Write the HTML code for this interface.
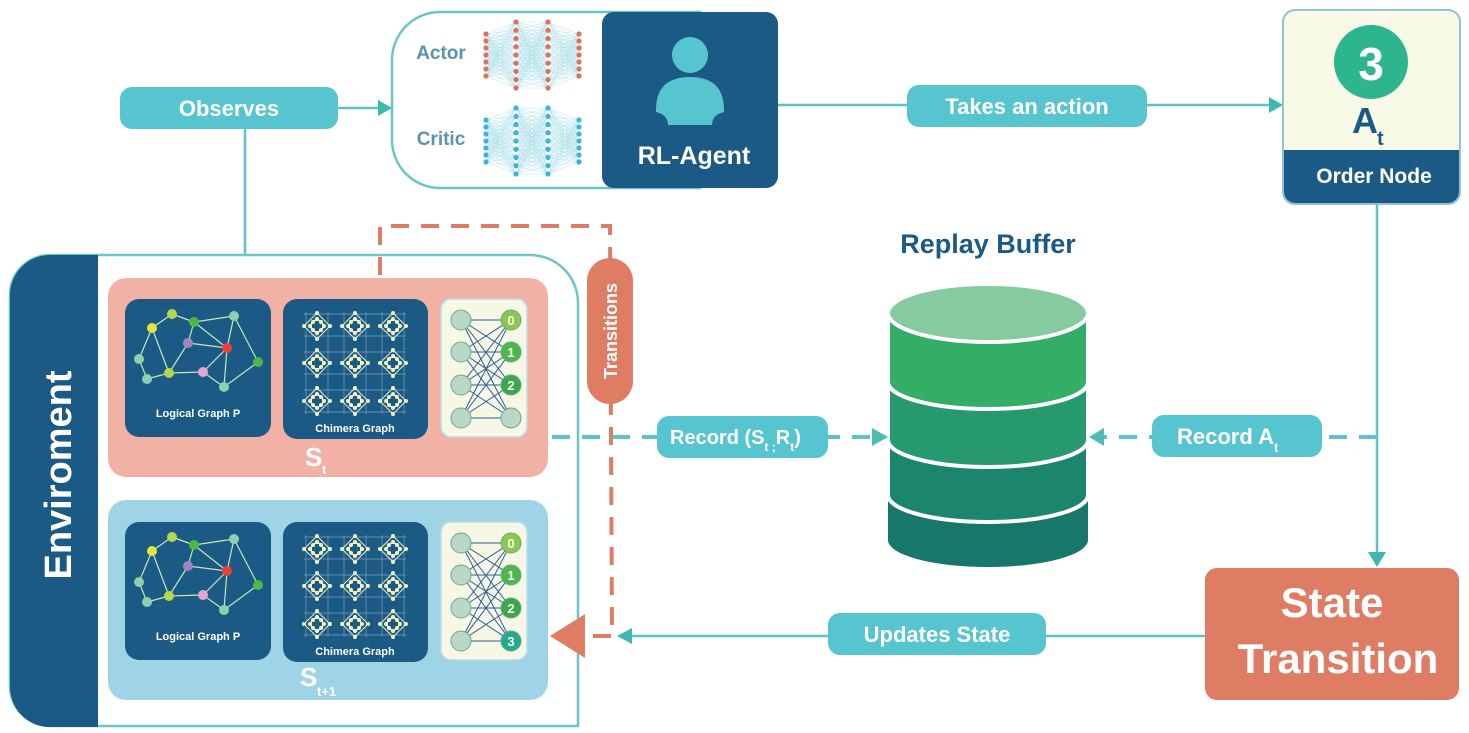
<!DOCTYPE html>
<html><head><meta charset="utf-8"><style>
html,body{margin:0;padding:0;background:#fff;}
svg{display:block;font-family:"Liberation Sans",sans-serif;font-weight:bold;}
</style></head><body>
<svg id="s" width="1469" height="733" viewBox="0 0 1469 733" xmlns="http://www.w3.org/2000/svg">
<!-- Observes connectors -->
<line x1="245" y1="108" x2="245" y2="280" stroke="#5cc4c8" stroke-width="2.5"/>
<line x1="338" y1="108" x2="392" y2="108" stroke="#5cc4c8" stroke-width="2.5"/>
<path d="M378,100 L392,108 L378,116 z" fill="#3fb9b0"/>
<rect x="120" y="87" width="218" height="42" rx="12" fill="#56c5cf"/>
<text x="229" y="116" font-size="22" fill="#fff" text-anchor="middle">Observes</text>

<!-- Agent -->
<path d="M440,12 L700,12 L700,188 L440,188 A48,48 0 0 1 392,140 L392,60 A48,48 0 0 1 440,12 z" fill="#fff" stroke="#6cc6c6" stroke-width="2.5"/>
<g id="nets"></g>
<text x="441" y="59" font-size="19" fill="#5a93b0" text-anchor="middle">Actor</text>
<text x="441" y="145" font-size="19" fill="#5a93b0" text-anchor="middle">Critic</text>
<rect x="602" y="12" width="176" height="176" rx="12" fill="#1a5a85"/>
<circle cx="690" cy="55" r="18" fill="#56c5cf"/>
<path d="M656,110 Q656,77 690,77 Q724,77 724,110 L724,112 Q712,115 712,125 L668,125 Q668,115 656,112 z" fill="#56c5cf"/>
<text x="694" y="164" font-size="25" fill="#fff" text-anchor="middle">RL-Agent</text>

<!-- Takes action -->
<line x1="778" y1="105" x2="1283" y2="105" stroke="#5cc4c8" stroke-width="2.5"/>
<path d="M1269,97 L1283,105 L1269,113 z" fill="#3fb9b0"/>
<rect x="907" y="85" width="240" height="42" rx="12" fill="#56c5cf"/>
<text x="1027" y="114" font-size="22" fill="#fff" text-anchor="middle">Takes an action</text>

<!-- Order node -->
<rect x="1283" y="10" width="177" height="194" rx="12" fill="#f8f9e6" stroke="#8fc3dc" stroke-width="2"/>
<path d="M1284,150 L1459,150 L1459,192 A11,11 0 0 1 1448,203 L1295,203 A11,11 0 0 1 1284,192 z" fill="#1a5a85"/>
<circle cx="1371" cy="62" r="37" fill="#2db58e"/>
<text x="1371" y="80" font-size="46" fill="#fff" text-anchor="middle">3</text>
<text x="1352" y="133" font-size="36" fill="#1a5a85">A</text>
<text x="1377" y="145" font-size="20" fill="#1a5a85">t</text>
<text x="1374" y="183" font-size="21" fill="#fff" text-anchor="middle">Order Node</text>

<!-- vertical to state transition -->
<line x1="1377" y1="204" x2="1377" y2="565" stroke="#5cc4c8" stroke-width="2.5"/>
<path d="M1368,552 L1377,567 L1386,552 z" fill="#3fb9b0"/>

<!-- State transition -->
<rect x="1205" y="568" width="254" height="132" rx="12" fill="#df7c64"/>
<text x="1332" y="617" font-size="42" fill="#fff" text-anchor="middle">State</text>
<text x="1338" y="673" font-size="42" fill="#fff" text-anchor="middle">Transition</text>

<!-- Updates state -->
<line x1="1205" y1="636" x2="620" y2="636" stroke="#5cc4c8" stroke-width="2.5"/>
<path d="M632,628 L617,636 L632,644 z" fill="#3fb9b0"/>
<rect x="828" y="613" width="218" height="42" rx="12" fill="#56c5cf"/>
<text x="937" y="642" font-size="22" fill="#fff" text-anchor="middle">Updates State</text>

<!-- Replay buffer -->
<text x="988" y="253" font-size="27" fill="#1a5a85" text-anchor="middle">Replay Buffer</text>
<g>
<path d="M888,315 L888,540 A100,27 0 0 0 1088,540 L1088,315 z" fill="#17776a"/>
<path d="M888,315 L888,495 A100,27 0 0 0 1088,495 L1088,315 z" fill="#1b866d" stroke="#fff" stroke-width="4"/>
<path d="M888,315 L888,440 A100,27 0 0 0 1088,440 L1088,315 z" fill="#27996e" stroke="#fff" stroke-width="4"/>
<path d="M888,315 L888,382 A100,27 0 0 0 1088,382 L1088,315 z" fill="#32ae67" stroke="#fff" stroke-width="4"/>
<ellipse cx="988" cy="313" rx="100" ry="29" fill="#85cb9f" stroke="#fff" stroke-width="4"/>
</g>

<!-- Environment -->
<path d="M50,255 L530,255 A48,48 0 0 1 578,303 L578,726 L50,726 A40,40 0 0 1 10,686 L10,295 A40,40 0 0 1 50,255 z" fill="#fff" stroke="#6cc6c6" stroke-width="2.5"/>
<path d="M50,255 L98,255 L98,727 L50,727 A40,40 0 0 1 10,687 L10,295 A40,40 0 0 1 50,255 z" fill="#1a5a85"/>
<text transform="translate(71,475) rotate(-90)" font-size="38" fill="#fff" text-anchor="middle">Enviroment</text>
<rect x="108" y="278" width="440" height="199" rx="18" fill="#f2b1a5"/>
<rect x="108" y="500" width="440" height="200" rx="18" fill="#9fd3e6"/>
<g id="panels"></g>
<text x="305" y="466" font-size="26" fill="#fff">S</text>
<text x="322" y="474" font-size="13" fill="#fff">t</text>
<text x="300" y="686" font-size="26" fill="#fff">S</text>
<text x="317" y="696" font-size="13" fill="#fff">t+1</text>

<!-- record lines -->
<line x1="552" y1="437" x2="884" y2="437" stroke="#5cc4c8" stroke-width="4" stroke-dasharray="18,12"/>
<path d="M872,428 L888,437 L872,446 z" fill="#4dbcb6"/>
<rect x="657" y="416" width="171" height="42" rx="12" fill="#56c5cf"/>
<text x="670" y="444" font-size="20" fill="#fff">Record (S<tspan font-size="12" dy="7">t ;</tspan><tspan dy="-7">R</tspan><tspan font-size="12" dy="7">t</tspan><tspan dy="-7">)</tspan></text>

<line x1="1377" y1="437" x2="1095" y2="437" stroke="#5cc4c8" stroke-width="4" stroke-dasharray="18,12"/>
<path d="M1104,428 L1089,437 L1104,446 z" fill="#4dbcb6"/>
<rect x="1152" y="415" width="170" height="42" rx="12" fill="#56c5cf"/>
<text x="1177" y="444" font-size="22" fill="#fff">Record A<tspan font-size="13" dy="8">t</tspan></text>

<!-- orange dashed transitions -->
<path d="M380,275 L380,226 L610,226 L612,636 L585,636" fill="none" stroke="#df7c64" stroke-width="4" stroke-dasharray="18,12"/>
<path d="M585,614 L550,636 L585,658 z" fill="#df7c64"/>
<rect x="587" y="258" width="46" height="146" rx="23" fill="#df7c64"/>
<text transform="translate(617,331) rotate(-90)" font-size="18" fill="#fff" text-anchor="middle">Transitions</text>
</svg>
<script>
var NS="http://www.w3.org/2000/svg";
function el(p,t,a){var e=document.createElementNS(NS,t);for(var k in a)e.setAttribute(k,a[k]);p.appendChild(e);return e;}
var nets=document.getElementById('nets');
function net(y0,col){
 var xs=[486,516,548,579],layers=[];
 for(var i=0;i<4;i++){var n=(i==0||i==3)?7:9,top=(n==7)?y0+12:y0,bot=(n==7)?y0+54:y0+66,ys=[];
  for(var j=0;j<n;j++)ys.push(top+(bot-top)*j/(n-1));layers.push(ys);}
 for(var i=0;i<3;i++)for(var a=0;a<layers[i].length;a++)for(var b=0;b<layers[i+1].length;b++)
  el(nets,'line',{x1:xs[i],y1:layers[i][a],x2:xs[i+1],y2:layers[i+1][b],stroke:'#9fdbe6','stroke-width':0.4});
 for(var i=0;i<4;i++)layers[i].forEach(function(y){el(nets,'circle',{cx:xs[i],cy:y,r:2.6,fill:col});});
}
net(22,'#e0705e');net(108,'#3bb3e0');
var P=document.getElementById('panels');
function panels(oy,four){
 el(P,'rect',{x:125,y:299+oy,width:146,height:138,rx:14,fill:'#1a5a85'});
 el(P,'rect',{x:283,y:299+oy,width:145,height:140,rx:14,fill:'#1a5a85'});
 el(P,'rect',{x:441,y:299+oy,width:86,height:138,rx:10,fill:'#f6f7e4',stroke:'#b9dce6','stroke-width':1.5});
 var N=[[152,328,'#e5e43a'],[172,314,'#b5d84a'],[194,322,'#4cb84a'],[234,316,'#8ecfb0'],[188,343,'#a084c4'],[227,348,'#ee4036'],[139,359,'#8ecfb0'],[169,373,'#b5d84a'],[147,379,'#8ecfb0'],[203,372,'#e5a6d6'],[224,387,'#8ecfb0'],[258,362,'#4cb84a']];
 var E=[[0,1],[1,2],[2,3],[0,6],[0,7],[6,8],[8,7],[7,4],[4,2],[4,5],[2,5],[3,5],[3,11],[5,9],[5,10],[7,9],[9,10],[10,11]];
 E.forEach(function(e){el(P,'line',{x1:N[e[0]][0],y1:N[e[0]][1]+oy,x2:N[e[1]][0],y2:N[e[1]][1]+oy,stroke:'#c8e6b8','stroke-width':1.2});});
 N.forEach(function(n){el(P,'circle',{cx:n[0],cy:n[1]+oy,r:5,fill:n[2]});});
 el(P,'text',{x:198,y:417+oy,'font-size':11,fill:'#fff','text-anchor':'middle'}).textContent='Logical Graph P';
 el(P,'text',{x:355,y:432+oy,'font-size':11,fill:'#fff','text-anchor':'middle'}).textContent='Chimera Graph';
 var cx=[317,355,393],cy=[326,363,401];
 [306,328,344,366,382,404].forEach(function(x){el(P,'line',{x1:x,y1:312+oy,x2:x,y2:414+oy,stroke:'#7f9fb8','stroke-width':0.7});});
 [314,336,352,374,390,412].forEach(function(y){el(P,'line',{x1:304,y1:y+oy,x2:406,y2:y+oy,stroke:'#7f9fb8','stroke-width':0.7});});
 cx.forEach(function(x){cy.forEach(function(y){y+=oy;
  el(P,'path',{d:'M'+x+','+(y-13)+' L'+(x+13)+','+y+' L'+x+','+(y+13)+' L'+(x-13)+','+y+' z',fill:'none',stroke:'#e8ecd0','stroke-width':1});
  el(P,'circle',{cx:x,cy:y,r:6,fill:'none',stroke:'#f4f1c8','stroke-width':1.5});
  [[0,-13],[0,-7],[0,7],[0,13],[-13,0],[-7,0],[7,0],[13,0],[-4,-4],[4,4],[-4,4],[4,-4]].forEach(function(d){el(P,'circle',{cx:x+d[0],cy:y+d[1],r:2,fill:'#f4f1c0'});});
 });});
 var ly=[320,352,385,418];
 ly.forEach(function(a){ly.forEach(function(b){el(P,'line',{x1:461,y1:a+oy,x2:511,y2:b+oy,stroke:'#2c5c9c','stroke-width':1});});});
 ly.forEach(function(y){el(P,'circle',{cx:461,cy:y+oy,r:10,fill:'#b9d8c8',stroke:'#6aa88a','stroke-width':1});});
 var rc=['#8cc84b','#4cb84a','#3aa848',four?'#25a890':'#b9d8c8'],lab=['0','1','2',four?'3':''];
 ly.forEach(function(y,i){el(P,'circle',{cx:511,cy:y+oy,r:10,fill:rc[i],stroke:'#6aa88a','stroke-width':1});
  if(lab[i])el(P,'text',{x:511,y:y+oy+5,'font-size':13,fill:'#fff','text-anchor':'middle'}).textContent=lab[i];});
}
panels(0,false);panels(223,true);
</script>
</body></html>
